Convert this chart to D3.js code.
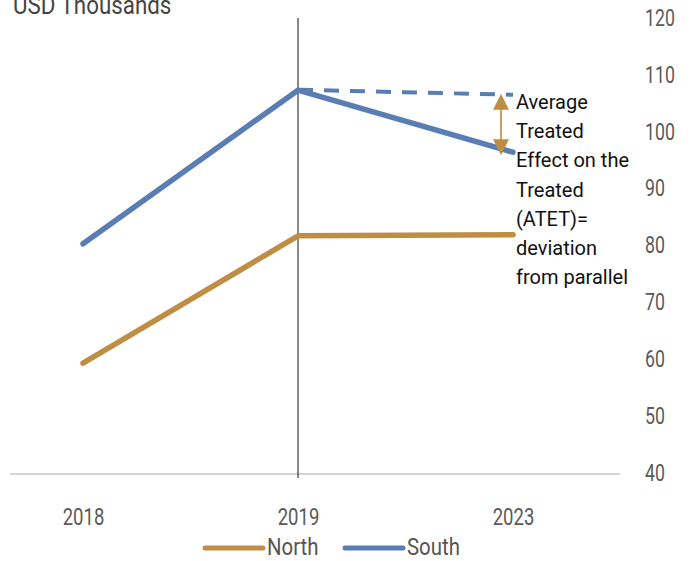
<!DOCTYPE html>
<html>
<head>
<meta charset="utf-8">
<script src="https://cdn.jsdelivr.net/npm/d3@7"></script>
<style>
  html, body { margin: 0; padding: 0; background: #fff; }
  svg { display: block; }
</style>
</head>
<body>
<svg id="chart" width="691" height="561"></svg>
<script>
// Mean income by region, USD thousands
const years = [2018, 2019, 2023];
const north = [59.3, 81.7, 81.9];
const south = [80.3, 107.3, 96.4];
// South's path had it followed North's trend after 2019
const parallelYears = [2019, 2023];
const parallelSouth = [107.4, 106.5];
const yTicks = [40, 50, 60, 70, 80, 90, 100, 110, 120];
const seriesNames = ["North", "South"];
const noteLines = ["Average", "Treated", "Effect on the", "Treated", "(ATET)=", "deviation", "from parallel"];

const gold = "#BE8E45";
const blue = "#5A7DB4";
const labelFont = "Roboto, 'Liberation Sans', sans-serif";
const narrow = 0.77; // horizontal squeeze for the condensed label face

const svg = d3.select("#chart");

const x = d3.scalePoint().domain(years).range([83, 513]);
const y = d3.scaleLinear().domain([40, 120]).range([473, 18]);

// baseline
svg.append("line")
  .attr("x1", 10).attr("x2", 620)
  .attr("y1", y(40) + 1).attr("y2", y(40) + 1)
  .attr("stroke", "#d4d4d4").attr("stroke-width", 2);

// treatment marker at 2019
svg.append("line")
  .attr("x1", x(2019)).attr("x2", x(2019))
  .attr("y1", 18).attr("y2", 478)
  .attr("stroke", "#111").attr("stroke-width", 1);

// y axis on the right
const yAxis = svg.append("g")
  .attr("transform", "translate(645,0)")
  .call(d3.axisRight(y).tickValues(yTicks).tickSize(0).tickPadding(0));
yAxis.select(".domain").remove();
yAxis.selectAll("text")
  .attr("font-family", labelFont).attr("font-size", 23).attr("fill", "#5a5a5a")
  .attr("transform", `scale(${narrow},1)`);

// x axis labels
const xAxis = svg.append("g")
  .attr("transform", "translate(0,508)")
  .call(d3.axisBottom(x).tickSize(0).tickPadding(0).tickFormat(d3.format("d")));
xAxis.select(".domain").remove();
xAxis.selectAll("text")
  .attr("font-family", labelFont).attr("font-size", 24).attr("fill", "#5a5a5a")
  .attr("transform", `scale(${narrow},1)`);

// title
svg.append("g").attr("transform", "translate(13,14)")
  .append("text")
  .attr("font-family", labelFont).attr("font-size", 26).attr("fill", "#444")
  .attr("transform", "scale(0.86,1)")
  .text("USD Thousands");

const line = d3.line().x(d => x(d[0])).y(d => y(d[1]));

// counterfactual parallel trend
svg.append("path")
  .datum(parallelYears.map((yr, i) => [yr, parallelSouth[i]]))
  .attr("d", line)
  .attr("fill", "none").attr("stroke", blue)
  .attr("stroke-width", 4).attr("stroke-dasharray", "15,11");

// series lines
[[north, gold], [south, blue]].forEach(([vals, col]) => {
  svg.append("path")
    .datum(years.map((yr, i) => [yr, vals[i]]))
    .attr("d", line)
    .attr("fill", "none").attr("stroke", col)
    .attr("stroke-width", 5.5)
    .attr("stroke-linecap", "round").attr("stroke-linejoin", "round");
});

// double-headed arrow showing the gap
const ax = x(2023) - 12;
const yTop = y(parallelSouth[1]) - 1;
const yBot = y(south[2]) + 3;
svg.append("line")
  .attr("x1", ax).attr("x2", ax)
  .attr("y1", yTop + 10).attr("y2", yBot - 10)
  .attr("stroke", "#C9A062").attr("stroke-width", 2);
svg.append("path")
  .attr("d", `M${ax},${yTop} L${ax - 8},${yTop + 16} L${ax + 8},${yTop + 16} Z`)
  .attr("fill", gold);
svg.append("path")
  .attr("d", `M${ax},${yBot} L${ax - 8},${yBot - 16} L${ax + 8},${yBot - 16} Z`)
  .attr("fill", gold);

// annotation
const note = svg.append("text")
  .attr("font-family", labelFont)
  .attr("font-size", 20).attr("fill", "#111");
noteLines.forEach((t, i) => {
  note.append("tspan").attr("x", 516).attr("y", 109 + i * 29.2).text(t);
});

// legend
const legend = svg.append("g");
[[205, gold], [345, blue]].forEach(([lx, col], i) => {
  legend.append("line")
    .attr("x1", lx).attr("x2", lx + 58)
    .attr("y1", 548).attr("y2", 548)
    .attr("stroke", col).attr("stroke-width", 5).attr("stroke-linecap", "round");
  legend.append("g").attr("transform", `translate(${lx + 62},555)`)
    .append("text")
    .attr("font-family", labelFont).attr("font-size", 24).attr("fill", "#555")
    .attr("transform", "scale(0.85,1)")
    .text(seriesNames[i]);
});
</script>
</body>
</html>
